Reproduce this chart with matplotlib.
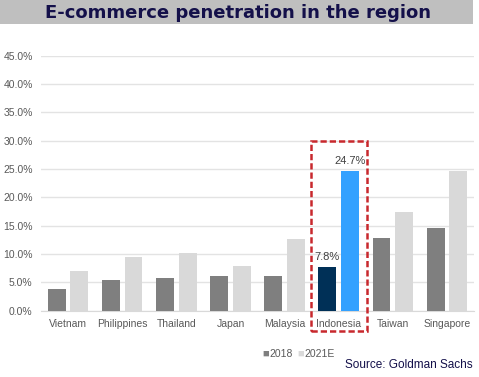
import numpy as np
import matplotlib.pyplot as plt
from matplotlib.patches import Rectangle

# chart data
countries = ["Vietnam", "Philippines", "Thailand", "Japan", "Malaysia",
             "Indonesia", "Taiwan", "Singapore"]
pen_2018 = [3.9, 5.5, 5.7, 6.2, 6.1, 7.8, 12.8, 14.6]
pen_2021 = [7.0, 9.5, 10.2, 7.9, 12.6, 24.7, 17.4, 24.7]
y_ticks = [0, 5, 10, 15, 20, 25, 30, 35, 40, 45]
highlight = "Indonesia"

W, H = 479, 377
fig = plt.figure(figsize=(W / 100, H / 100), dpi=100)
plt.rcParams['font.family'] = ['Liberation Sans', 'DejaVu Sans']

# title banner
fig.patches.append(Rectangle((0, 1 - 24 / H), 473 / W, 24 / H, transform=fig.transFigure,
                             facecolor="#bfbfbf", edgecolor="none"))
fig.text(238 / W, 1 - 12.5 / H, "E-commerce penetration in the region", ha="center", va="center",
         fontsize=13, fontweight="bold", color="#14104a", family="DejaVu Sans")

ax = fig.add_axes([41 / W, (H - 310.7) / H, (474 - 41) / W, 255 / H])
x = np.arange(len(countries))
w = 0.33
off = 0.21
c18 = ["#003057" if c == highlight else "#7f7f7f" for c in countries]
c21 = ["#33a1ff" if c == highlight else "#d9d9d9" for c in countries]
ax.bar(x - off, pen_2018, w, color=c18, zorder=3)
ax.bar(x + off, pen_2021, w, color=c21, zorder=3)

i = countries.index(highlight)
ax.text(x[i] - off, pen_2018[i] + 0.8, f"{pen_2018[i]}%", ha="center", va="bottom",
        fontsize=8, color="#404040")
ax.text(x[i] + off, pen_2021[i] + 0.8, f"{pen_2021[i]}%", ha="center", va="bottom",
        fontsize=8, color="#404040")

ax.set_xlim(-0.5, len(countries) - 0.5)
ax.set_ylim(0, 45)
ax.set_yticks(y_ticks)
ax.set_yticklabels([f"{t:.1f}%" for t in y_ticks])
ax.set_xticks(x)
ax.set_xticklabels(countries)
ax.tick_params(length=0, labelsize=7.5, labelcolor="#595959")
ax.tick_params(axis="y", pad=6)
ax.tick_params(axis="x", pad=6)
ax.grid(axis="y", color="#e3e3e3", linewidth=1, zorder=0)
for s in ["top", "right", "left"]:
    ax.spines[s].set_visible(False)
ax.spines["bottom"].set_color("#d9d9d9")

# dashed highlight box
box = Rectangle((x[i] - 0.52, -3.6), 1.04, 33.6, fill=False, edgecolor="#c8282d",
                linestyle=(0, (2.5, 1.2)), linewidth=1.8, clip_on=False, zorder=4)
ax.add_patch(box)

# legend
fig.text(262 / W, 1 - 354 / H, "\u25a0", color="#7f7f7f", fontsize=8, va="center")
fig.text(269 / W, 1 - 354 / H, "2018", color="#595959", fontsize=7.5, va="center")
fig.text(297 / W, 1 - 354 / H, "\u25a0", color="#d9d9d9", fontsize=8, va="center")
fig.text(304 / W, 1 - 354 / H, "2021E", color="#595959", fontsize=7.5, va="center")

fig.text(473 / W, 1 - 365 / H, "Source: Goldman Sachs", ha="right", va="center",
         fontsize=8.5, color="#14104a", family=["Liberation Sans Narrow", "Liberation Sans"])

fig.savefig("out.png", dpi=100)
